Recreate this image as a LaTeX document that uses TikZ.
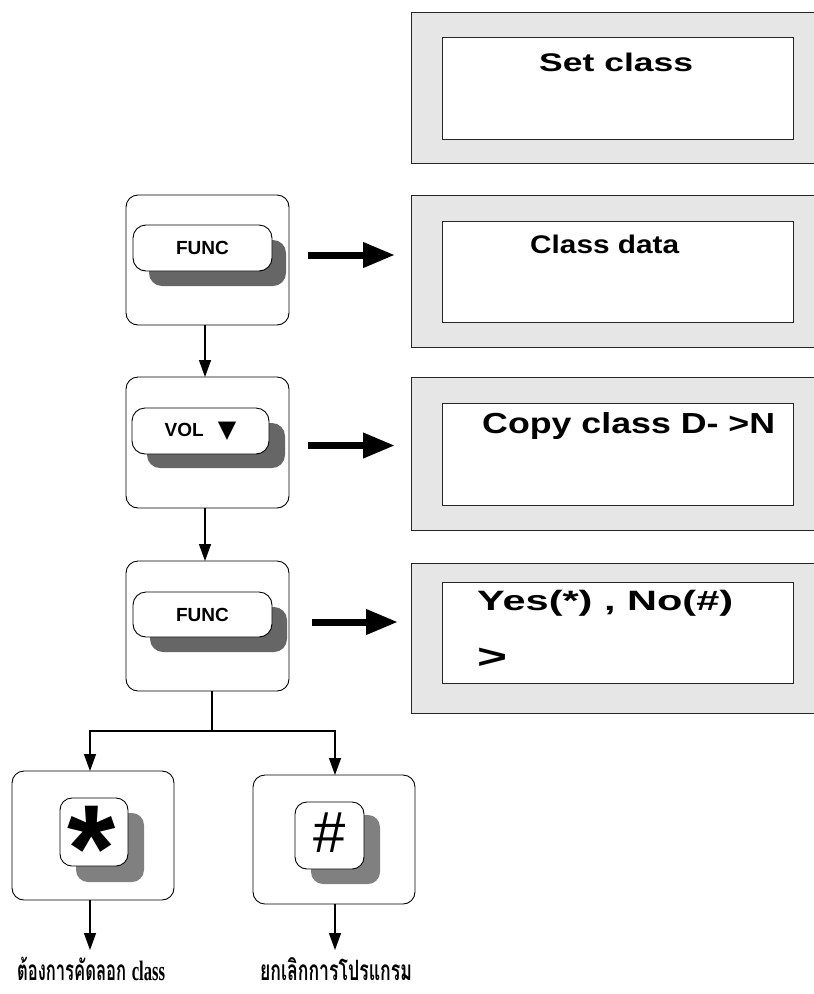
\documentclass[tikz,border=0pt]{standalone}
\usepackage{fontspec}
\setsansfont{Liberation Sans}
\newfontfamily\thaifont[Script=Thai]{Loma}
\newfontfamily\symfont{DejaVu Sans}
\newfontfamily\latinserif{Liberation Serif}
\usetikzlibrary{arrows.meta,calc}
\definecolor{lcdgray}{HTML}{E6E6E6}
\definecolor{shadowdark}{HTML}{666666}
\definecolor{shadowmid}{HTML}{808080}
\tikzset{
  box/.style={rectangle, anchor=north west, inner sep=0pt, outer sep=0pt},
  lcdouter/.style={box, draw=black!85, fill=lcdgray, line width=1pt},
  lcdinner/.style={box, draw=black!85, fill=white, line width=1pt},
  lcdtext/.style={anchor=base west, inner sep=0pt, font=\sffamily\bfseries},
  panel/.style={box, draw=black, fill=white, line width=0.9pt, rounded corners=12pt},
  keyshadow/.style={box, fill=shadowdark, rounded corners=13pt},
  keyshadowb/.style={box, fill=shadowmid, rounded corners=12pt},
  keycap/.style={box, draw=black, fill=white, line width=0.9pt, rounded corners=13pt,
     font=\sffamily\bfseries\fontsize{19}{20}\selectfont},
  conn/.style={line width=1.4pt, -{Triangle[length=17pt,width=12pt]}},
  plain/.style={line width=1.4pt},
  bigarrow/.style={line width=7pt, -{Triangle[length=32pt,width=24pt]}},
  thailabel/.style={anchor=base, inner sep=0pt}
}
\begin{document}
\begin{tikzpicture}[x=1pt,y=-1pt]
\useasboundingbox (0,0) rectangle (814,994);
\clip (0,0) rectangle (814,994);

% LCD panels
\node[lcdouter, minimum width=419pt, minimum height=151pt] (L1) at (411,12) {};
\node[lcdinner, minimum width=351pt, minimum height=102pt] (I1) at (442,37) {};
\node[lcdtext] (t1) at (539,71) {\fontsize{25.5}{28}\selectfont\resizebox{154pt}{\height}{Set class}};

\node[lcdouter, minimum width=419pt, minimum height=152pt] (L2) at (411,195) {};
\node[lcdinner, minimum width=351pt, minimum height=101pt] (I2) at (442,221) {};
\node[lcdtext] (t2) at (530,253) {\fontsize{25.5}{28}\selectfont\resizebox{149pt}{\height}{Class data}};

\node[lcdouter, minimum width=419pt, minimum height=153pt] (L3) at (411,377) {};
\node[lcdinner, minimum width=351pt, minimum height=102pt] (I3) at (442,403) {};
\node[lcdtext] (t3) at (482,433) {\fontsize{29}{32}\selectfont\resizebox{293pt}{\height}{Copy class D- >N}};

\node[lcdouter, minimum width=419pt, minimum height=150pt] (L4) at (411,563) {};
\node[lcdinner, minimum width=351pt, minimum height=101pt] (I4) at (442,582) {};
\node[lcdtext] (t4) at (477,610) {\fontsize{28}{32}\selectfont\resizebox{256pt}{\height}{Yes(*) , No(\#)}};
\node[lcdtext] (t5) at (477,668) {\fontsize{34}{36}\selectfont\resizebox{30pt}{\height}{>}};

% button panels
\node[panel, minimum width=163pt, minimum height=130pt] (B1) at (126,195) {};
\node[keyshadow, minimum width=137pt, minimum height=46pt] (S1) at (149,240) {};
\node[keycap, minimum width=139pt, minimum height=46pt] (K1) at (133,225) {FUNC};

\node[panel, minimum width=163pt, minimum height=131pt] (B2) at (126,377) {};
\node[keyshadow, minimum width=138pt, minimum height=45pt] (S2) at (147,423) {};
\node[keycap, minimum width=137pt, minimum height=46pt] (K2) at (132,408) {VOL\hspace{14pt}{\symfont\fontsize{24}{24}\selectfont\raisebox{-1pt}{▼}}};

\node[panel, minimum width=163pt, minimum height=130pt] (B3) at (126,561) {};
\node[keyshadow, minimum width=137pt, minimum height=45pt] (S3) at (150,607) {};
\node[keycap, minimum width=139pt, minimum height=45pt] (K3) at (133,592) {FUNC};

\node[panel, minimum width=162pt, minimum height=129pt] (B4) at (12,771) {};
\node[keyshadowb, minimum width=68pt, minimum height=69pt] (S4) at (76,813) {};
\node[keycap, rounded corners=12pt, minimum width=68pt, minimum height=68pt] (K4) at (60,798) {};
\node[anchor=north, inner sep=0pt, font=\sffamily\bfseries\fontsize{124}{124}\selectfont] (star) at (92,806) {*};

\node[panel, minimum width=162pt, minimum height=129pt] (B5) at (253,775) {};
\node[keyshadowb, minimum width=69pt, minimum height=69pt] (S5) at (311,815) {};
\node[keycap, rounded corners=12pt, minimum width=69pt, minimum height=67pt] (K5) at (295,802) {};
\node[anchor=center, inner sep=0pt, font=\sffamily\fontsize{58}{58}\selectfont] (hash) at (330,832.5) {\#};

% big arrows to LCDs
\draw[bigarrow] ([shift={(19,-5)}]B1.east) -- ++(87,0);
\draw[bigarrow] ([shift={(19,3)}]B2.east) -- ++(87,0);
\draw[bigarrow] ([shift={(23,-4)}]B3.east) -- ++(86,0);

% flow connectors
\draw[conn] ([xshift=-2.5pt]B1.south) -- ([xshift=-2.5pt]B2.north);
\draw[conn] ([xshift=-2.5pt]B2.south) -- ([xshift=-2.5pt]B3.north);
\draw[plain] ([xshift=4.5pt]B3.south) -- ++(0,40) coordinate (split);
\draw[conn] (split) -| ([xshift=-3pt]B4.north);
\draw[conn] (split) -| ([xshift=1pt]B5.north);

% labels
\node[thailabel] (T1) at (91,980) {\thaifont\bfseries\fontsize{28}{30}\selectfont\resizebox{148pt}{\height}{ต้องการคัดลอก {\latinserif\bfseries class}}};
\node[thailabel] (T2) at (336,980) {\thaifont\bfseries\fontsize{28}{30}\selectfont\resizebox{152pt}{\height}{ยกเลิกการโปรแกรม}};
\coordinate (e4) at (90,950);
\coordinate (e5) at (335,950);
\draw[conn] ([xshift=-3pt]B4.south) -- (e4);
\draw[conn] ([xshift=1pt]B5.south) -- (e5);
\end{tikzpicture}
\end{document}
